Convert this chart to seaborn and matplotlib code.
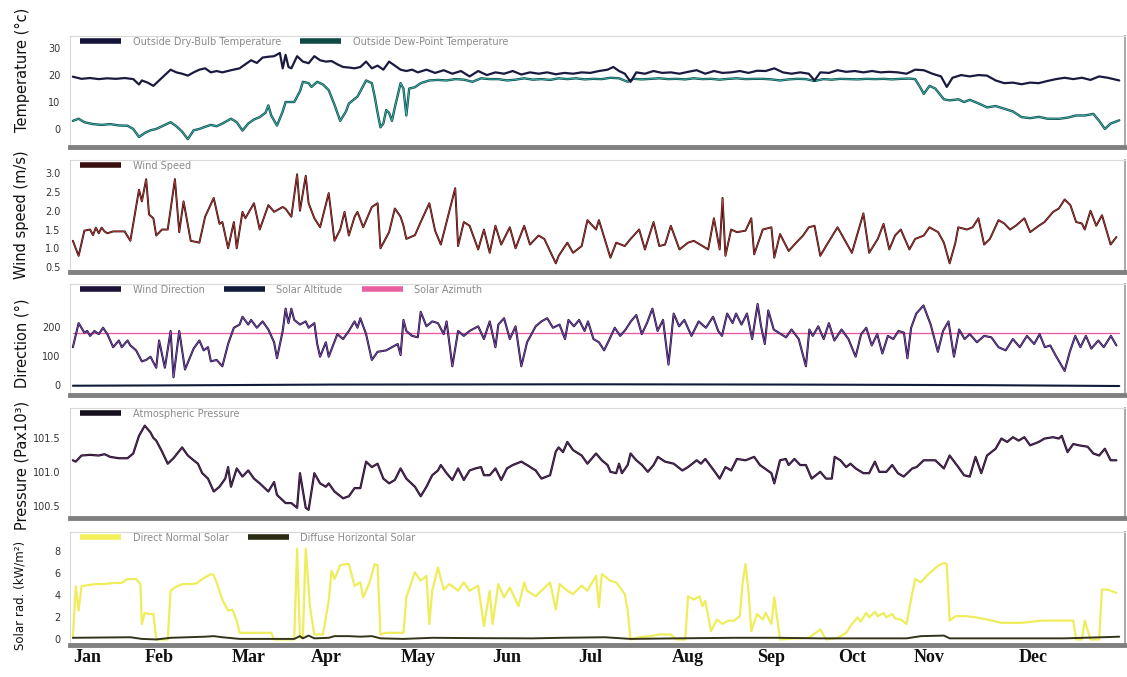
import numpy as np
import pandas as pd
import matplotlib
matplotlib.use("Agg")
import matplotlib.pyplot as plt
from matplotlib.lines import Line2D
import seaborn as sns

# ---------------- data (day of year, value) ----------------
month_labels = ["Jan", "Feb", "Mar", "Apr", "May", "Jun", "Jul", "Aug", "Sep", "Oct", "Nov", "Dec"]
month_pos = [5, 30, 61, 88, 120, 151, 180, 214, 243, 271, 298, 334]

dry_days = [0,3,6,9,12,15,18,21,23,24,26,28,30,32,34,36,38,40,42,44,46,48,50,52,55,58,60,62,64,66,68,70,72,73,74,75,76,78,80,82,84,86,88,90,92,94,96,98,100,102,104,106,108,110,112,114,116,118,120,123,126,129,132,135,138,141,144,147,150,153,156,159,162,165,168,171,174,177,180,183,186,188,190,192,194,196,199,202,205,208,211,214,217,220,223,226,229,232,235,238,241,244,247,250,253,256,258,260,263,266,269,272,275,278,281,284,287,290,293,296,299,302,304,306,309,312,315,318,321,324,327,330,333,336,339,342,345,348,351,354,357,360,364]
dry_vals = [19.4,18.6,18.9,18.5,18.8,18.6,18.9,18.5,16.5,18.0,17.2,16.0,18.0,20.0,22.0,21.0,20.5,19.8,21.0,22.0,22.5,21.0,21.5,21.0,21.8,22.5,24.0,25.5,24.5,26.5,26.8,27.0,28.2,22.5,27.5,23.0,22.5,27.0,25.0,24.4,27.0,25.5,25.0,25.2,24.0,23.0,22.8,22.5,23.0,25.0,22.5,23.5,22.0,25.0,23.5,22.0,21.5,22.0,21.0,22.0,20.8,21.8,20.5,21.5,19.5,21.5,20.0,21.0,20.5,21.5,20.2,21.0,20.5,21.0,20.3,20.8,20.5,21.0,20.8,21.5,22.0,23.0,21.5,20.5,17.5,21.0,20.5,21.5,20.8,21.0,20.5,21.2,21.8,20.5,21.5,20.8,21.0,21.5,20.8,21.6,21.5,22.5,21.0,20.5,21.0,20.5,18.0,21.0,20.8,21.8,21.2,21.5,21.0,21.5,21.0,21.2,21.0,20.5,22.0,21.8,20.5,19.5,15.6,19.0,20.0,19.5,20.0,19.8,18.0,17.0,17.2,16.6,17.2,17.0,17.8,18.5,19.0,18.5,19.0,18.2,19.5,19.0,18.0]

dew_days = [0,2,4,7,10,13,16,19,21,23,25,27,29,32,34,36,38,40,42,44,46,48,50,52,55,57,59,61,63,65,67,68,69,71,73,74,77,79,80,82,83,85,87,89,91,93,95,96,99,101,102,104,105,106,107,108,109,110,111,112,114,115,116,117,119,121,124,127,130,133,136,139,142,145,148,151,154,157,160,163,166,169,172,175,178,181,184,187,190,193,195,198,201,204,207,210,213,216,219,222,225,228,231,234,237,240,243,246,249,252,255,258,261,264,267,270,273,276,279,282,285,288,291,293,295,296,298,300,303,305,308,310,312,315,318,321,324,327,330,333,336,339,343,346,349,352,355,357,359,361,364]
dew_vals = [3.0,3.8,2.5,1.8,1.5,1.8,1.3,1.2,0.0,-3.0,-1.5,-0.5,0.0,1.5,2.5,1.0,-1.0,-3.8,-0.5,0.0,0.8,1.5,1.0,2.0,3.8,2.5,-0.6,2.0,3.5,4.4,6.0,8.75,5.0,1.25,6.5,10.0,10.0,14.0,17.5,17.0,15.6,17.5,16.5,14.4,9.0,3.0,6.5,9.4,12.0,16.0,18.0,17.0,12.0,6.0,0.6,2.0,7.0,6.0,3.0,8.0,17.0,15.0,5.0,15.0,15.5,17.0,18.0,18.2,18.0,18.5,18.3,17.5,18.8,18.5,18.5,18.0,18.3,18.8,18.3,18.5,18.2,18.8,18.5,18.8,18.4,18.6,18.5,19.0,18.8,17.5,18.6,18.4,18.6,18.8,18.5,18.6,18.4,18.8,18.5,18.6,18.3,18.6,18.8,18.5,18.6,18.6,18.4,18.0,18.4,18.6,18.5,17.8,18.5,18.3,18.6,18.5,18.4,18.6,18.5,18.6,18.4,18.6,18.7,18.5,15.0,13.0,16.0,15.0,11.0,10.6,11.0,10.0,10.8,9.5,8.0,8.5,7.5,6.5,4.4,4.0,4.5,3.8,3.75,4.2,5.0,5.0,5.6,3.0,0.0,2.0,3.2]

wind_days = [0,2,4,6,7,8,9,10,11,12,14,16,18,20,23,24,25.5,26.5,28,29,31,33,35.5,37,38.5,41,44,46,49,51,52,54,56,57,59,60,63,65,68,70,73,74,76,78,79,81,82,84,86,89,91,93,94.5,96,98,99,101,104,106,107,110,112,114,115,116,119,121,124,126,128,130,133,134,136,138,141,143,145,147,149,152,154,157,159,162,164,168,169,172,174,177,179,182,183,187,189,192,194,197,199,202,204,206,208,211,214,216,219,221,223,225,226,227,229,231,234,236,237,240,243,244,246,249,251,254,256,258,260,262,266,269,271,275,277,280,282,284,286,288,291,293,296,298,301,303,305,307,308,311,313,315,317,319,322,324,326,328,331,333,336,338,341,343,345,347,349,351,352,354,356,358,361,363]
wind_vals = [1.2,0.8,1.47,1.5,1.35,1.55,1.4,1.55,1.45,1.4,1.45,1.45,1.45,1.2,2.56,2.25,2.84,1.9,1.8,1.34,1.5,1.5,2.84,1.43,2.25,1.2,1.15,1.84,2.34,1.65,1.7,1.0,1.7,1.0,1.97,1.8,2.2,1.5,2.15,1.97,2.1,2.05,1.84,2.97,2.0,2.93,2.2,1.8,1.56,2.47,1.2,1.5,1.97,1.34,1.84,1.97,1.56,2.1,2.2,1.0,1.43,2.06,1.84,1.6,1.25,1.35,1.7,2.2,1.47,1.1,1.7,2.6,1.06,1.7,1.6,0.97,1.5,0.88,1.6,1.1,1.56,1.0,1.6,1.1,1.34,1.25,0.6,0.8,1.15,0.88,1.06,1.75,1.5,1.75,0.75,1.15,1.06,1.25,1.5,0.97,1.7,1.06,1.1,1.6,0.97,1.15,1.2,1.06,0.97,1.8,0.97,2.34,0.8,1.5,1.43,1.47,1.8,0.84,1.5,1.56,0.75,1.38,0.93,1.1,1.34,1.56,1.6,0.8,1.06,1.56,1.15,0.88,1.93,0.88,1.25,1.65,0.97,1.34,1.5,0.97,1.25,1.34,1.56,1.43,1.15,0.6,1.15,1.56,1.5,1.56,1.8,1.1,1.25,1.75,1.66,1.5,1.6,1.8,1.43,1.6,1.7,1.97,2.06,2.3,2.15,1.7,1.66,1.5,2.0,1.6,1.88,1.1,1.3]

dir_days = [0,2,4,5,6,7.5,9,10.5,12,13,14,16,17,19,20,22,24,25.5,27,29,30,32,34,35,37,39,42,44,45.5,47,48,50,52,54,56,58,59,61,62,64,66,68,70,71,73,74,75,76,77,79,81,82,84,85,86,88,89,92,94,96,98,99,100,102,104,106,109,111,113,114,115,116,118,120,121,123,125,127,129,130,132,134,136,138,141,143,145,147,148,150,152,154,156,158,161,163,165,167,169.3,171.2,172.4,174.3,176.1,178,179.2,181.1,183,184.8,186.7,188.5,190.4,192.3,194.1,196,197.9,199.7,201.6,203.4,205.3,207.2,209,210.9,212.7,215.2,217.7,220.2,222.7,224.5,225.8,227.6,229.5,230.7,232.6,234.5,236.3,238.2,239.4,240.7,241.9,243.8,246.3,248.1,250,252.5,255,256.2,257.4,259.3,261.2,263,264.9,267.4,269.8,272.3,274.2,276,277.9,279.8,281.6,283.5,285.4,287.2,289.1,290.3,291.6,293.4,295.9,298.4,300.9,302.7,304.6,306.5,308.3,310.2,312,314.5,317,319.5,322,324.5,327,329.4,331.9,334.4,336.3,338.1,340,341.8,345,346.8,348.7,350.5,352.4,354.3,356.7,358.6,361.1,363]
dir_vals = [132,215,182,188,171,188,177,199,177,155,132,155,132,155,138,121,83,88,99,61,155,61,188,28,188,55,127,155,121,132,83,88,66,143,199,210,237,210,226,199,221,193,149,94,188,265,215,265,226,210,221,199,215,143,99,149,99,177,160,188,221,199,232,177,88,116,121,132,143,105,226,188,171,166,254,204,221,215,177,221,66,188,171,188,204,160,221,132,210,232,160,204,66,149,204,221,232,199,210,160,226,204,226,188,221,160,149,121,160,199,171,193,221,243,177,215,265,188,226,72,248,204,226,171,221,199,237,188,171,248,215,248,210,248,160,281,204,143,259,193,177,166,193,160,66,193,171,204,160,215,155,193,160,99,177,199,138,177,110,171,160,188,182,94,199,248,276,210,116,188,221,99,193,160,177,149,171,166,132,121,160,132,171,143,177,132,138,105,50,116,171,132,171,127,155,132,171,138]

alt_days = [0, 29, 90, 180, 250, 316, 364]
alt_vals = [-1, 0, 3, 4, 3, 1, -2]
azi_days = [0, 364]
azi_vals = [180, 180]

pres_days = [0,1,3,6,9,11,13,16,19,21,23,25,27,28,29,31,33,35,38,40,42,43.5,45,47,49,51,53,54,55,57,59,61,63,65,68,70,71,74,76,78,79,81,82,84,86,88,89,91,94,96,98,100,102,104,106,108,110,112,114,116,119,121,123,125,127,128,130,132,134,136,138,140,142,143,145,147,149,151,153,156,158,161,163,166,168,169,170.5,172,174,177,179,182,184,186,187,189,190,191,193,194,196,198,200,202,203.5,206,209,212,214,217,218.5,220,223,225,227,229,231,234,237,239,243,244,246,248,249,251,253,255,257,260,262,264,265,267,269,270.5,272.3,275,277,279,280.5,283,285,287,289,292,293.5,296,298,300,303,305,308,310,312,314,316,318,321,323,325,327,329,331,333,336,338,341,343,344,346,348,350,353,355,357,359,361,363]
pres_vals = [101.17,101.15,101.24,101.25,101.24,101.26,101.22,101.2,101.2,101.27,101.53,101.68,101.58,101.5,101.46,101.3,101.12,101.2,101.36,101.24,101.17,101.12,100.98,100.9,100.71,100.78,100.9,101.07,100.78,101.05,100.93,101.02,100.9,100.83,100.71,100.85,100.66,100.54,100.54,100.47,100.98,100.47,100.44,100.98,100.83,100.78,100.83,100.71,100.61,100.64,100.76,100.76,101.15,101.07,101.12,100.9,100.83,100.88,101.05,100.9,100.78,100.64,100.78,100.95,101.02,101.1,100.98,100.88,101.05,100.88,101.02,101.05,101.07,100.95,100.95,101.05,100.88,101.05,101.1,101.15,101.1,101.02,100.9,100.95,101.3,101.36,101.29,101.44,101.32,101.24,101.12,101.27,101.17,101.1,101.0,100.98,101.12,100.98,101.1,101.27,101.17,101.1,101.0,101.1,101.22,101.15,101.12,101.02,101.07,101.17,101.12,101.19,101.02,100.9,101.07,101.02,101.19,101.17,101.22,101.1,100.98,100.83,101.17,101.19,101.1,101.19,101.1,101.1,100.9,101.0,100.9,100.9,101.22,101.17,101.07,101.12,101.05,100.98,100.98,101.15,101.0,101.0,101.1,100.98,100.93,101.05,101.07,101.17,101.17,101.17,101.05,101.24,101.07,100.95,100.93,101.22,100.98,101.24,101.34,101.49,101.44,101.51,101.46,101.51,101.39,101.44,101.49,101.51,101.49,101.53,101.29,101.41,101.39,101.37,101.27,101.24,101.34,101.17,101.17]

dni_days = [0,1,2,3,5,8,11,14,17,19,22,23.5,24,25,26.5,28,29,33,34,35.5,38,41,43,45,48,49,50,52,54,55.5,57,58,60,65,69,70,77,78,79,80,81,82.5,84,87,89,90,91,93,95,96,98,100,101,103,105,106,107,109,115,116,119,121,123,124,125,127,129,131,134,136,138,141,143,145,146,148,150,152,155,157,158,161,163,166,168,169.3,172,174,177,179,182,183,184,187,189,192,193,194,197,201,204,208,210,213,214,216,218,219,220,222,224,226,228,230,232,233,234,235,236,238,240,241,243,244,246,252,256,260,262,266,269,271,273,274,276,277,279,280,282,283,285,286,288,290,291.5,293,295,297,299,301,303,304,305,307,311,314,318,323,330,337,348,349,351,352,354,357,358,360,361,363]
dni_vals = [0.15,4.8,2.6,4.8,4.9,5.0,5.0,5.1,5.1,5.45,5.45,5.0,1.4,2.4,2.3,2.3,0.0,0.0,4.4,4.7,5.0,5.0,5.06,5.45,5.9,5.8,5.15,3.6,2.6,2.7,1.7,0.6,0.6,0.6,0.6,0.0,0.0,8.2,0.15,0.15,8.2,2.9,0.45,0.45,3.5,6.2,5.45,6.7,6.8,6.8,4.85,5.15,3.8,5.0,6.8,6.7,0.45,0.6,0.6,3.8,6.06,5.3,5.75,1.4,4.4,6.5,4.5,5.0,4.4,5.15,4.4,4.85,1.2,4.4,1.4,5.0,3.8,4.7,3.0,5.15,4.4,3.9,4.4,5.15,2.7,5.0,4.4,4.1,4.85,4.4,5.75,2.9,5.9,5.3,5.15,4.1,2.6,0.0,0.2,0.3,0.45,0.45,0.0,0.0,3.9,3.6,3.9,3.0,3.5,0.75,1.8,1.4,1.7,1.7,2.1,5.15,6.8,4.4,0.75,2.3,1.8,2.4,1.4,3.8,0.0,0.1,0.15,0.9,0.0,0.15,0.6,1.4,2.0,1.6,2.4,2.0,2.5,2.1,2.4,2.0,2.3,1.9,1.8,1.4,3.5,5.45,5.15,5.75,6.2,6.67,6.9,6.8,1.7,2.1,2.1,2.0,1.8,1.5,1.5,1.7,1.7,0.0,0.0,1.7,0.0,0.0,4.5,4.5,4.4,4.2]

dhi_days = [0,20,24,29,34,40,46,49,52,58,70,77,79,80,82,84,89,91,96,100,104,107,115,125,140,160,170,185,194,210,230,245,260,290,295,303,305,330,345,358,364]
dhi_vals = [0.15,0.2,0.05,0.0,0.15,0.2,0.25,0.3,0.2,0.05,0.05,0.05,0.3,0.1,0.35,0.1,0.15,0.3,0.3,0.25,0.3,0.1,0.05,0.15,0.12,0.1,0.15,0.2,0.05,0.1,0.15,0.15,0.1,0.1,0.3,0.35,0.1,0.1,0.1,0.2,0.25]

# ---------------- figure ----------------
sns.set_style("white")
plt.rcParams["font.family"] = ["DejaVu Sans"]

fig = plt.figure(figsize=(11.27, 6.77), dpi=100)
H = 677.0
W = 1127.0

def make_ax(top, bottom):
    return fig.add_axes([70 / W, 1 - bottom / H, 1055 / W, (bottom - top) / H])

def style(ax, ylim, yticks, yticklabels):
    ax.set_xlim(-1, 366)
    ax.set_ylim(*ylim)
    ax.set_yticks(yticks)
    ax.set_yticklabels(yticklabels)
    ax.set_xticks([])
    ax.set_xlabel("")
    ax.set_ylabel("")
    ax.tick_params(axis="y", length=0, pad=7, labelsize=7, labelcolor="#333333")
    for s in ["top", "left"]:
        ax.spines[s].set_color("#d9d9d9")
        ax.spines[s].set_linewidth(0.8)
    ax.spines["right"].set_color("#9a9a9a")
    ax.spines["right"].set_linewidth(1.2)
    ax.spines["bottom"].set_color("#808080")
    ax.spines["bottom"].set_linewidth(3.5)

def leg(ax, items):
    handles = [Line2D([0], [0], color=c, lw=4, solid_capstyle="butt") for c, _ in items]
    labels = [l for _, l in items]
    ax.legend(handles, labels, loc="upper left", bbox_to_anchor=(0.004, 1.045), ncol=len(items),
              frameon=False, fontsize=7, handlelength=4.2, columnspacing=2.0, handletextpad=1.2,
              labelcolor="#8a8a8a", borderaxespad=0.2)

def line(ax, x, y, color, lw, z=2):
    sns.lineplot(x=x, y=y, ax=ax, color=color, lw=lw, estimator=None, sort=False, legend=False, zorder=z)

# Panel 1: temperature
ax1 = make_ax(36, 147)
line(ax1, dew_days, dew_vals, "#134f4c", 1.7)
line(ax1, dew_days, dew_vals, "#45c8c2", 0.5, 3)
line(ax1, dry_days, dry_vals, "#1a1a40", 1.6, 4)
style(ax1, (-6.7, 34.5), [0, 10, 20, 30], ["0", "10", "20", "30"])
leg(ax1, [("#14143a", "Outside Dry-Bulb Temperature"), ("#0f4a45", "Outside Dew-Point Temperature")])

# Panel 2: wind speed
ax2 = make_ax(160, 272)
line(ax2, wind_days, wind_vals, "#2a0b0b", 1.4)
line(ax2, wind_days, wind_vals, "#e0453c", 0.45, 3)
style(ax2, (0.37, 3.35), [0.5, 1.0, 1.5, 2.0, 2.5, 3.0], ["0.5", "1.0", "1.5", "2.0", "2.5", "3.0"])
leg(ax2, [("#3a0f0f", "Wind Speed")])

# Panel 3: direction
ax3 = make_ax(284, 395)
line(ax3, azi_days, azi_vals, "#e8609f", 1.0, 2)
line(ax3, alt_days, alt_vals, "#0e1c3a", 1.5, 3)
line(ax3, dir_days, dir_vals, "#1d1035", 1.5, 4)
line(ax3, dir_days, dir_vals, "#9b5bd8", 0.45, 5)
style(ax3, (-33, 350), [0, 100, 200], ["0", "100", "200"])
leg(ax3, [("#1d1238", "Wind Direction"), ("#0e1c3a", "Solar Altitude"), ("#e8609f", "Solar Azimuth")])

# Panel 4: pressure
ax4 = make_ax(408, 518)
line(ax4, pres_days, pres_vals, "#1e1024", 1.6)
line(ax4, pres_days, pres_vals, "#7a3a8a", 0.4, 3)
style(ax4, (100.32, 101.94), [100.5, 101.0, 101.5], ["100.5", "101.0", "101.5"])
leg(ax4, [("#16101c", "Atmospheric Pressure")])

# Panel 5: solar
ax5 = make_ax(532, 645)
line(ax5, dni_days, dni_vals, "#efed5c", 1.6, 2)
line(ax5, dhi_days, dhi_vals, "#34341a", 1.4, 3)
style(ax5, (-0.5, 9.7), [0, 2, 4, 6, 8], ["0", "2", "4", "6", "8"])
leg(ax5, [("#f3f05a", "Direct Normal Solar"), ("#2a2a12", "Diffuse Horizontal Solar")])
ax5.set_xticks(month_pos)
ax5.set_xticklabels(month_labels, fontfamily="Liberation Serif", fontweight="bold", fontsize=13)
ax5.tick_params(axis="x", length=0, pad=3, labelcolor="#111111")

# y labels
lab_kw = dict(rotation=90, ha="center", va="center", color="#111111")
fig.text(22 / W, 1 - 70 / H, "Temperature (°c)", fontsize=10.5, **lab_kw)
fig.text(22 / W, 1 - 215 / H, "Wind speed (m/s)", fontsize=10.5, **lab_kw)
fig.text(22 / W, 1 - 343 / H, "Direction (°)", fontsize=10.5, **lab_kw)
fig.text(22 / W, 1 - 465 / H, "Pressure (Pax10³)", fontsize=10.5, **lab_kw)
fig.text(20 / W, 1 - 595 / H, "Solar rad. (kW/m²)", fontsize=8.5, **lab_kw)

fig.savefig("out.png", dpi=100, facecolor="white")
